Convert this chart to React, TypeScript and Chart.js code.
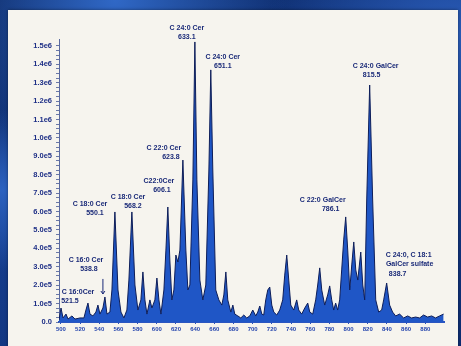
import React, { useEffect, useRef } from "react";
import { Chart, registerables } from "chart.js";

Chart.register(...registerables);

// m/z values of the traced spectrum
const mz = [
  498.0, 500.1, 502.2, 505.3, 507.4, 511.5, 514.7, 519.9, 524.0, 526.1, 528.2, 530.3, 533.4, 536.5, 538.6,
  540.7, 543.8, 545.9, 548.0, 551.1, 553.2, 556.3, 559.5, 562.6, 565.7, 568.8, 570.9, 574.0, 577.2, 580.3,
  583.4, 585.5, 587.6, 589.7, 592.8, 594.9, 598.0, 600.1, 602.2, 604.3, 607.4, 609.5, 611.5, 613.6, 615.7,
  617.8, 619.9, 622.0, 624.1, 627.2, 630.3, 632.4, 634.5, 637.6, 639.7, 641.8, 644.9, 648.0, 651.1, 654.3,
  656.3, 658.4, 661.5, 664.7, 667.8, 669.9, 672.0, 674.0, 677.2, 679.3, 681.3, 684.5, 687.6, 690.7, 693.8,
  697.0, 700.1, 703.2, 705.3, 707.4, 709.5, 711.5, 713.6, 715.7, 717.8, 719.9, 722.0, 725.1, 728.2, 731.3,
  733.4, 735.5, 737.6, 739.7, 742.8, 745.9, 748.0, 751.1, 754.3, 757.4, 759.5, 762.6, 765.7, 767.8, 769.9,
  772.0, 775.1, 778.2, 780.3, 782.4, 784.5, 786.5, 788.6, 790.7, 792.8, 794.9, 797.0, 799.1, 801.2, 803.3,
  805.4, 807.5, 809.6, 812.7, 814.8, 816.8, 818.9, 822.0, 825.1, 828.3, 831.4, 834.5, 836.6, 839.7, 842.8,
  845.9, 849.1, 853.2, 857.4, 861.6, 865.7, 869.9, 874.1, 878.2, 882.4, 886.6, 890.7, 894.9, 899.1,
];

// intensities (counts)
const intensity = [
  11000, 76000, 22000, 43000, 16000, 33000, 16000, 22000, 22000, 65000, 103000, 43000, 33000, 54000, 92000,
  43000, 76000, 136000, 43000, 54000, 174000, 598000, 174000, 54000, 22000, 65000, 228000, 598000, 201000, 65000,
  120000, 272000, 120000, 43000, 120000, 76000, 120000, 239000, 120000, 43000, 174000, 391000, 625000, 337000, 120000,
  174000, 364000, 326000, 391000, 880000, 391000, 174000, 201000, 772000, 1522000, 772000, 228000, 120000, 201000, 826000,
  1370000, 826000, 174000, 120000, 92000, 147000, 272000, 120000, 54000, 92000, 43000, 33000, 22000, 38000, 22000,
  33000, 65000, 33000, 54000, 87000, 43000, 38000, 120000, 174000, 190000, 92000, 54000, 38000, 65000, 120000,
  255000, 364000, 228000, 92000, 65000, 120000, 65000, 43000, 76000, 103000, 54000, 43000, 120000, 201000, 294000,
  174000, 92000, 147000, 196000, 120000, 65000, 103000, 65000, 120000, 283000, 446000, 571000, 391000, 174000, 310000,
  435000, 283000, 228000, 380000, 201000, 120000, 663000, 1288000, 663000, 120000, 54000, 65000, 120000, 212000, 92000,
  54000, 33000, 43000, 22000, 33000, 22000, 27000, 22000, 38000, 27000, 33000, 22000, 33000, 43000,
];

const xTickValues = [500, 520, 540, 560, 580, 600, 620, 640, 660, 680, 700, 720, 740, 760, 780, 800, 820, 840, 860, 880];
const yTickValues = [0, 100000, 200000, 300000, 400000, 500000, 600000, 700000, 800000, 900000, 1000000, 1100000, 1200000, 1300000, 1400000, 1500000];
const yTickLabels = ["0.0", "1.0e5", "2.0e5", "3.0e5", "4.0e5", "5.0e5", "6.0e5", "7.0e5", "8.0e5", "9.0e5", "1.0e6", "1.1e6", "1.2e6", "1.3e6", "1.4e6", "1.5e6"];

// peak annotations: anchor (m/z, intensity) of the first text line
const annMz = [631.3, 668.8, 828.2, 607.4, 602.2, 569.9, 530.3, 526.1, 517.8, 773.0, 862.6];
const annInt = [1598000, 1440000, 1391000, 946000, 766000, 679000, 641000, 337000, 163000, 663000, 364000];
const annText = [
  ["C 24:0 Cer", "633.1"],
  ["C 24:0 Cer", "651.1"],
  ["C 24:0 GalCer", "815.5"],
  ["C 22:0 Cer", "623.8"],
  ["C22:0Cer", "606.1"],
  ["C 18:0 Cer", "568.2"],
  ["C 18:0 Cer", "550.1"],
  ["C 16:0 Cer", "538.8"],
  ["C 16:0Cer", "521.5"],
  ["C 22:0 GalCer", "786.1"],
  ["C 24:0, C 18:1", "GalCer sulfate", "838.7"],
];
// arrow from label to the 538.8 peak
const arrowMz = [543.8, 543.8];
const arrowInt = [234000, 152000];

const lineShift: number[][] = [
  [0, 0],
  [0, 0],
  [0, -4],
  [0, 7],
  [0, 3],
  [0, 5],
  [0, 5],
  [0, 3],
  [0, -8],
  [0, 8],
  [0, 1, -11],
];

const FONT = "'Liberation Sans', Arial, sans-serif";

const annotationPlugin = {
  id: "peakLabels",
  afterDatasetsDraw(chart: any) {
    const ctx = chart.ctx;
    const xs = chart.scales.x;
    const ys = chart.scales.y;
    ctx.save();
    ctx.fillStyle = "#1a2a78";
    ctx.font = `bold 7px ${FONT}`;
    ctx.textAlign = "center";
    ctx.textBaseline = "middle";
    annText.forEach((lines, i) => {
      const px = xs.getPixelForValue(annMz[i]);
      const py = ys.getPixelForValue(annInt[i]);
      lines.forEach((t, j) => {
        ctx.fillText(t, px + (lineShift[i][j] || 0), py + j * 9.3);
      });
    });
    // arrow
    const ax = xs.getPixelForValue(arrowMz[0]);
    const ay0 = ys.getPixelForValue(arrowInt[0]);
    const ay1 = ys.getPixelForValue(arrowInt[1]);
    ctx.strokeStyle = "#1a2a78";
    ctx.lineWidth = 1;
    ctx.beginPath();
    ctx.moveTo(ax, ay0);
    ctx.lineTo(ax, ay1);
    ctx.stroke();
    ctx.beginPath();
    ctx.moveTo(ax - 2, ay1 - 3);
    ctx.lineTo(ax, ay1);
    ctx.lineTo(ax + 2, ay1 - 3);
    ctx.stroke();
    ctx.restore();
  },
};

export default function App() {
  const ref = useRef<HTMLCanvasElement | null>(null);

  useEffect(() => {
    if (!ref.current) return;
    const chart = new Chart(ref.current, {
      type: "line",
      data: {
        datasets: [
          {
            data: mz.map((x, i) => ({ x, y: intensity[i] })),
            borderColor: "#0d1d58",
            borderWidth: 1,
            backgroundColor: "#1f56c6",
            fill: "origin",
            pointRadius: 0,
            tension: 0,
          },
        ],
      },
      options: {
        animation: false,
        responsive: false,
        devicePixelRatio: 1,
        layout: { padding: { left: 0, top: 39, right: 17, bottom: 0 } },
        plugins: { legend: { display: false }, tooltip: { enabled: false } },
        scales: {
          x: {
            type: "linear",
            min: 498,
            max: 899.5,
            afterBuildTicks: (s: any) => {
              s.ticks = xTickValues.map((v) => ({ value: v }));
            },
            afterFit: (s: any) => {
              s.height = 24;
            },
            ticks: {
              autoSkip: false,
              maxRotation: 0,
              padding: 2,
              color: "#2545ad",
              font: { size: 6, weight: "bold", family: FONT },
              callback: (v: any) => String(v),
            },
            grid: { drawOnChartArea: false, drawTicks: true, tickLength: 2, color: "#2a4fb5" },
            border: { color: "#2a55c0", width: 2 },
          },
          y: {
            type: "linear",
            min: 0,
            max: 1538000,
            afterBuildTicks: (s: any) => {
              const t: any[] = [];
              for (let v = 0; v <= 1500000; v += 25000) t.push({ value: v });
              s.ticks = t;
            },
            afterFit: (s: any) => {
              s.width = 59;
            },
            ticks: {
              autoSkip: false,
              padding: 4,
              color: "#1e2f86",
              font: { size: 7.5, weight: "bold", family: FONT },
              callback: (v: any) => {
                const k = yTickValues.indexOf(Number(v));
                return k >= 0 ? yTickLabels[k] : "";
              },
            },
            grid: { drawOnChartArea: false, drawTicks: true, tickLength: 3, color: "#6a78a8" },
            border: { color: "#5a6aa0", width: 1 },
          },
        },
      },
      plugins: [annotationPlugin],
    } as any);
    return () => chart.destroy();
  }, []);

  return (
    <div
      style={{
        position: "fixed",
        left: 0,
        top: 0,
        width: 461,
        height: 346,
        overflow: "hidden",
        background:
          "radial-gradient(ellipse at 25% 0%, #3068c6 0%, rgba(48,104,198,0) 35%), radial-gradient(ellipse at 0% 55%, #2c62c0 0%, rgba(44,98,192,0) 30%), radial-gradient(ellipse at 100% 10%, #2a5cb8 0%, rgba(42,92,184,0) 30%), linear-gradient(160deg, #0a245c 0%, #163e8e 45%, #0d2d72 100%)",
      }}
    >
      <div
        style={{
          position: "absolute",
          left: 8,
          top: 10,
          width: 450,
          height: 340,
          background: "#f6f4ee",
          boxShadow: "0 0 3px rgba(0,0,0,0.45)",
        }}
      />
      <canvas
        ref={ref}
        width={461}
        height={346}
        style={{ position: "absolute", left: 0, top: 0, width: 461, height: 346 }}
      />
    </div>
  );
}
